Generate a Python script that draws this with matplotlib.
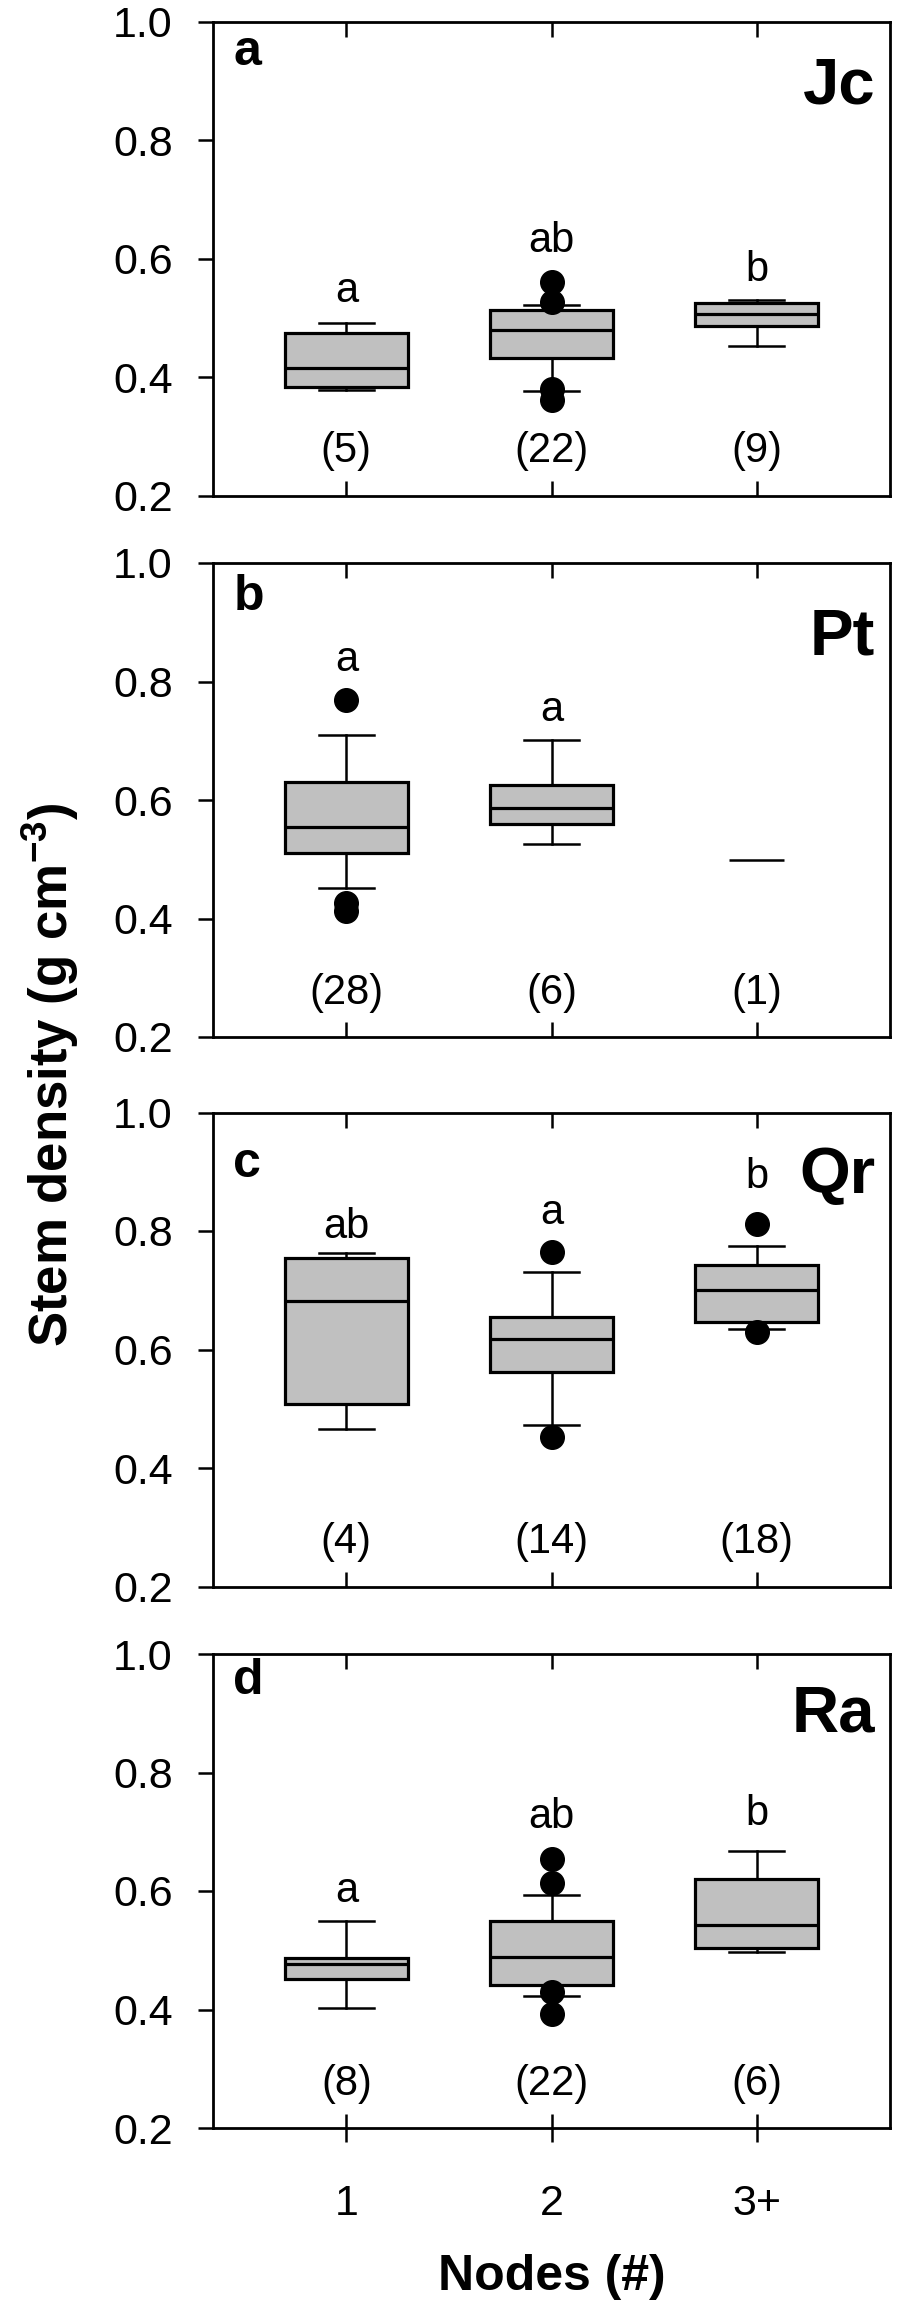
import matplotlib
matplotlib.use("Agg")
from matplotlib import pyplot as plt

# 数据
nodes = [1, 2, 3]
node_labels = ["1", "2", "3+"]
species = ["Jc", "Pt", "Qr", "Ra"]
panel_tags = ["a", "b", "c", "d"]

med_jc = [0.415, 0.479, 0.507]
q1_jc = [0.383, 0.433, 0.486]
q3_jc = [0.474, 0.514, 0.525]
lo_jc = [0.379, 0.377, 0.452]
hi_jc = [0.491, 0.521, 0.530]
out_jc = [[], [0.561, 0.527, 0.380, 0.361], []]
n_jc = [5, 22, 9]
let_jc = ["a", "ab", "b"]
let_y_jc = [0.546, 0.630, 0.581]

med_pt = [0.554, 0.587]
q1_pt = [0.510, 0.560]
q3_pt = [0.630, 0.626]
lo_pt = [0.451, 0.525]
hi_pt = [0.709, 0.701]
out_pt = [[0.768, 0.426, 0.412], []]
single_pt = 0.499  # 3+ 只有一个样本
n_pt = [28, 6, 1]
let_pt = ["a", "a", ""]
let_y_pt = [0.836, 0.752, 0.0]

med_qr = [0.682, 0.617, 0.701]
q1_qr = [0.508, 0.562, 0.647]
q3_qr = [0.755, 0.655, 0.742]
lo_qr = [0.466, 0.472, 0.635]
hi_qr = [0.763, 0.731, 0.774]
out_qr = [[], [0.764, 0.453], [0.811, 0.629]]
n_qr = [4, 14, 18]
let_qr = ["ab", "a", "b"]
let_y_qr = [0.807, 0.831, 0.891]

med_ra = [0.476, 0.489, 0.543]
q1_ra = [0.451, 0.442, 0.504]
q3_ra = [0.487, 0.550, 0.621]
lo_ra = [0.402, 0.422, 0.497]
hi_ra = [0.550, 0.594, 0.668]
out_ra = [[], [0.654, 0.614, 0.429, 0.393], []]
n_ra = [8, 22, 6]
let_ra = ["a", "ab", "b"]
let_y_ra = [0.600, 0.725, 0.730]

panels = [
    (med_jc, q1_jc, q3_jc, lo_jc, hi_jc, out_jc, n_jc, let_jc, let_y_jc),
    (med_pt, q1_pt, q3_pt, lo_pt, hi_pt, out_pt, n_pt, let_pt, let_y_pt),
    (med_qr, q1_qr, q3_qr, lo_qr, hi_qr, out_qr, n_qr, let_qr, let_y_qr),
    (med_ra, q1_ra, q3_ra, lo_ra, hi_ra, out_ra, n_ra, let_ra, let_y_ra),
]

# 布局 (像素, 898x2312)
W, H = 898.0, 2312.0
ax_left, ax_right = 213, 890
ax_tops = [21.6, 563, 1112.5, 1654]
ax_h = 474
tag_y = [0.908, 0.900, 0.863, 0.916]
sp_y = [0.828, 0.806, 0.830, 0.836]

plt.rcParams['font.family'] = ['Liberation Sans', 'DejaVu Sans']
plt.rcParams['mathtext.fontset'] = 'custom'
plt.rcParams['mathtext.rm'] = 'Liberation Sans'
plt.rcParams['mathtext.bf'] = 'Liberation Sans:bold'

fig = plt.figure(figsize=(8.98, 23.12), dpi=100)

for i, (med, q1, q3, lo, hi, outs, ns, lets, let_y) in enumerate(panels):
    top = ax_tops[i]
    ax = fig.add_axes([ax_left / W, 1 - (top + ax_h) / H,
                       (ax_right - ax_left) / W, ax_h / H])
    stats = []
    for k in range(len(med)):
        stats.append(dict(med=med[k], q1=q1[k], q3=q3[k],
                          whislo=lo[k], whishi=hi[k], fliers=outs[k]))
    ax.bxp(stats, positions=nodes[:len(med)], widths=0.6, capwidths=0.27,
           patch_artist=True,
           boxprops=dict(facecolor="#c0c0c0", edgecolor="black", linewidth=2.3),
           medianprops=dict(color="black", linewidth=2.3),
           whiskerprops=dict(color="black", linewidth=1.8),
           capprops=dict(color="black", linewidth=1.8),
           flierprops=dict(marker="o", markerfacecolor="black",
                           markeredgecolor="black", markersize=17))
    if i == 1:
        ax.hlines(single_pt, nodes[2] - 0.135, nodes[2] + 0.135,
                  color="black", linewidth=1.8)

    for k in range(3):
        ax.text(nodes[k], 0.275, "({})".format(ns[k]), ha="center",
                va="center", fontsize=30)
        if lets[k]:
            ax.text(nodes[k], let_y[k], lets[k], ha="center", va="center",
                    fontsize=30)

    ax.text(0.03, tag_y[i], panel_tags[i], transform=ax.transAxes,
            fontsize=36, fontweight="bold", ha="left", va="baseline")
    ax.text(0.978, sp_y[i], species[i], transform=ax.transAxes,
            fontsize=47, fontweight="bold", ha="right", va="baseline")

    ax.set_xlim(0.35, 3.65)
    ax.set_ylim(0.2, 1.0)
    ax.set_yticks([0.2, 0.4, 0.6, 0.8, 1.0])
    ax.set_yticklabels(["0.2", "0.4", "0.6", "0.8", "1.0"])
    ax.set_xticks(nodes)
    for s in ax.spines.values():
        s.set_linewidth(2.0)
    ax.tick_params(axis="y", direction="out", length=11, width=1.8,
                   labelsize=31, pad=18, right=False)
    if i == 3:
        ax.set_xticklabels(node_labels)
        ax.tick_params(axis="x", which="major", direction="inout", length=20,
                       width=1.8, labelsize=31, pad=30, top=True)
    else:
        ax.set_xticklabels([])
        ax.tick_params(axis="x", direction="in", length=11, width=1.8,
                       top=True)

# 顶部刻度朝里
for a in fig.axes:
    for t in a.xaxis.get_major_ticks():
        t.tick2line.set_marker(3)
        t.tick2line.set_markersize(11)

fig.text(50 / W, 1 - 1075 / H, r"Stem density (g cm$^{\mathbf{-3}}$)",
         rotation=90, ha="center", va="center", fontsize=38,
         fontweight="bold")
fig.text((ax_left + ax_right) / 2 / W, 1 - 2277 / H, "Nodes (#)",
         ha="center", va="center", fontsize=36, fontweight="bold")

fig.savefig("out.png", dpi=100)
